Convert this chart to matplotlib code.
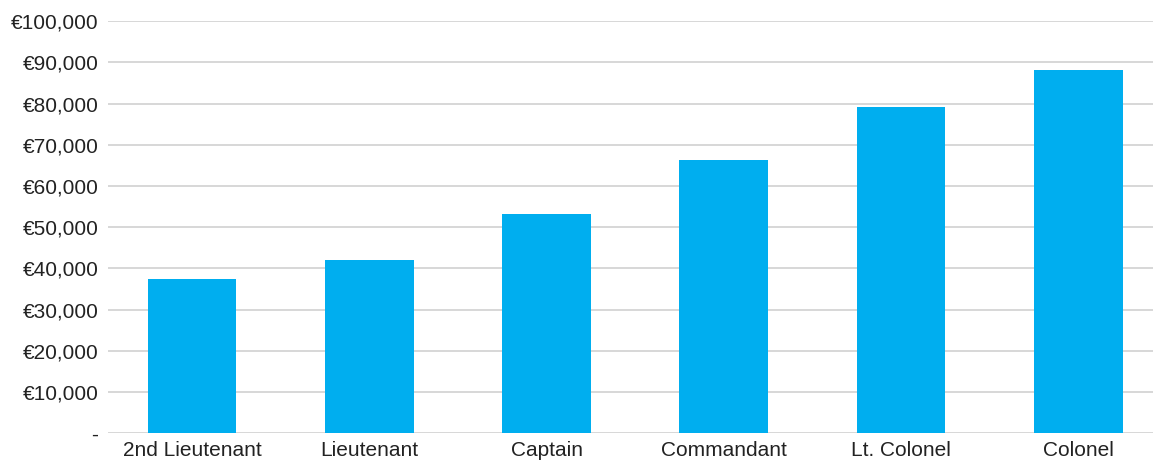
import matplotlib
matplotlib.use("Agg")
import matplotlib.pyplot as plt
from matplotlib.ticker import FuncFormatter

# Salary by rank (EUR)
ranks = ['2nd Lieutenant', 'Lieutenant', 'Captain', 'Commandant', 'Lt. Colonel', 'Colonel']
salaries = [37300, 42100, 53200, 66200, 79200, 88200]
y_ticks = list(range(0, 100001, 10000))

plt.rcParams['font.family'] = ['Liberation Sans', 'DejaVu Sans']

fig = plt.figure(figsize=(11.55, 4.61), dpi=100)
ax = fig.add_axes([0.0935, 0.0607, 0.9045, 0.8931])

ax.bar(range(len(ranks)), salaries, width=0.5, color='#00AEEF', zorder=3)

ax.set_ylim(0, 100000)
ax.set_xlim(-0.474, 5.42)
ax.set_yticks(y_ticks)
ax.yaxis.set_major_formatter(FuncFormatter(lambda v, p: '-' if v == 0 else '€{:,.0f}'.format(v)))
ax.set_xticks(range(len(ranks)))
ax.set_xticklabels(ranks)

ax.grid(axis='y', color='#d4d4d4', linewidth=1.3, zorder=0)
ax.grid(axis='x', visible=False)
for s in ax.spines.values():
    s.set_visible(False)

ax.tick_params(axis='both', length=0, labelsize=15, labelcolor='#222222')
ax.tick_params(axis='y', pad=7)
ax.tick_params(axis='x', pad=6)

fig.savefig('out.png', dpi=100)
